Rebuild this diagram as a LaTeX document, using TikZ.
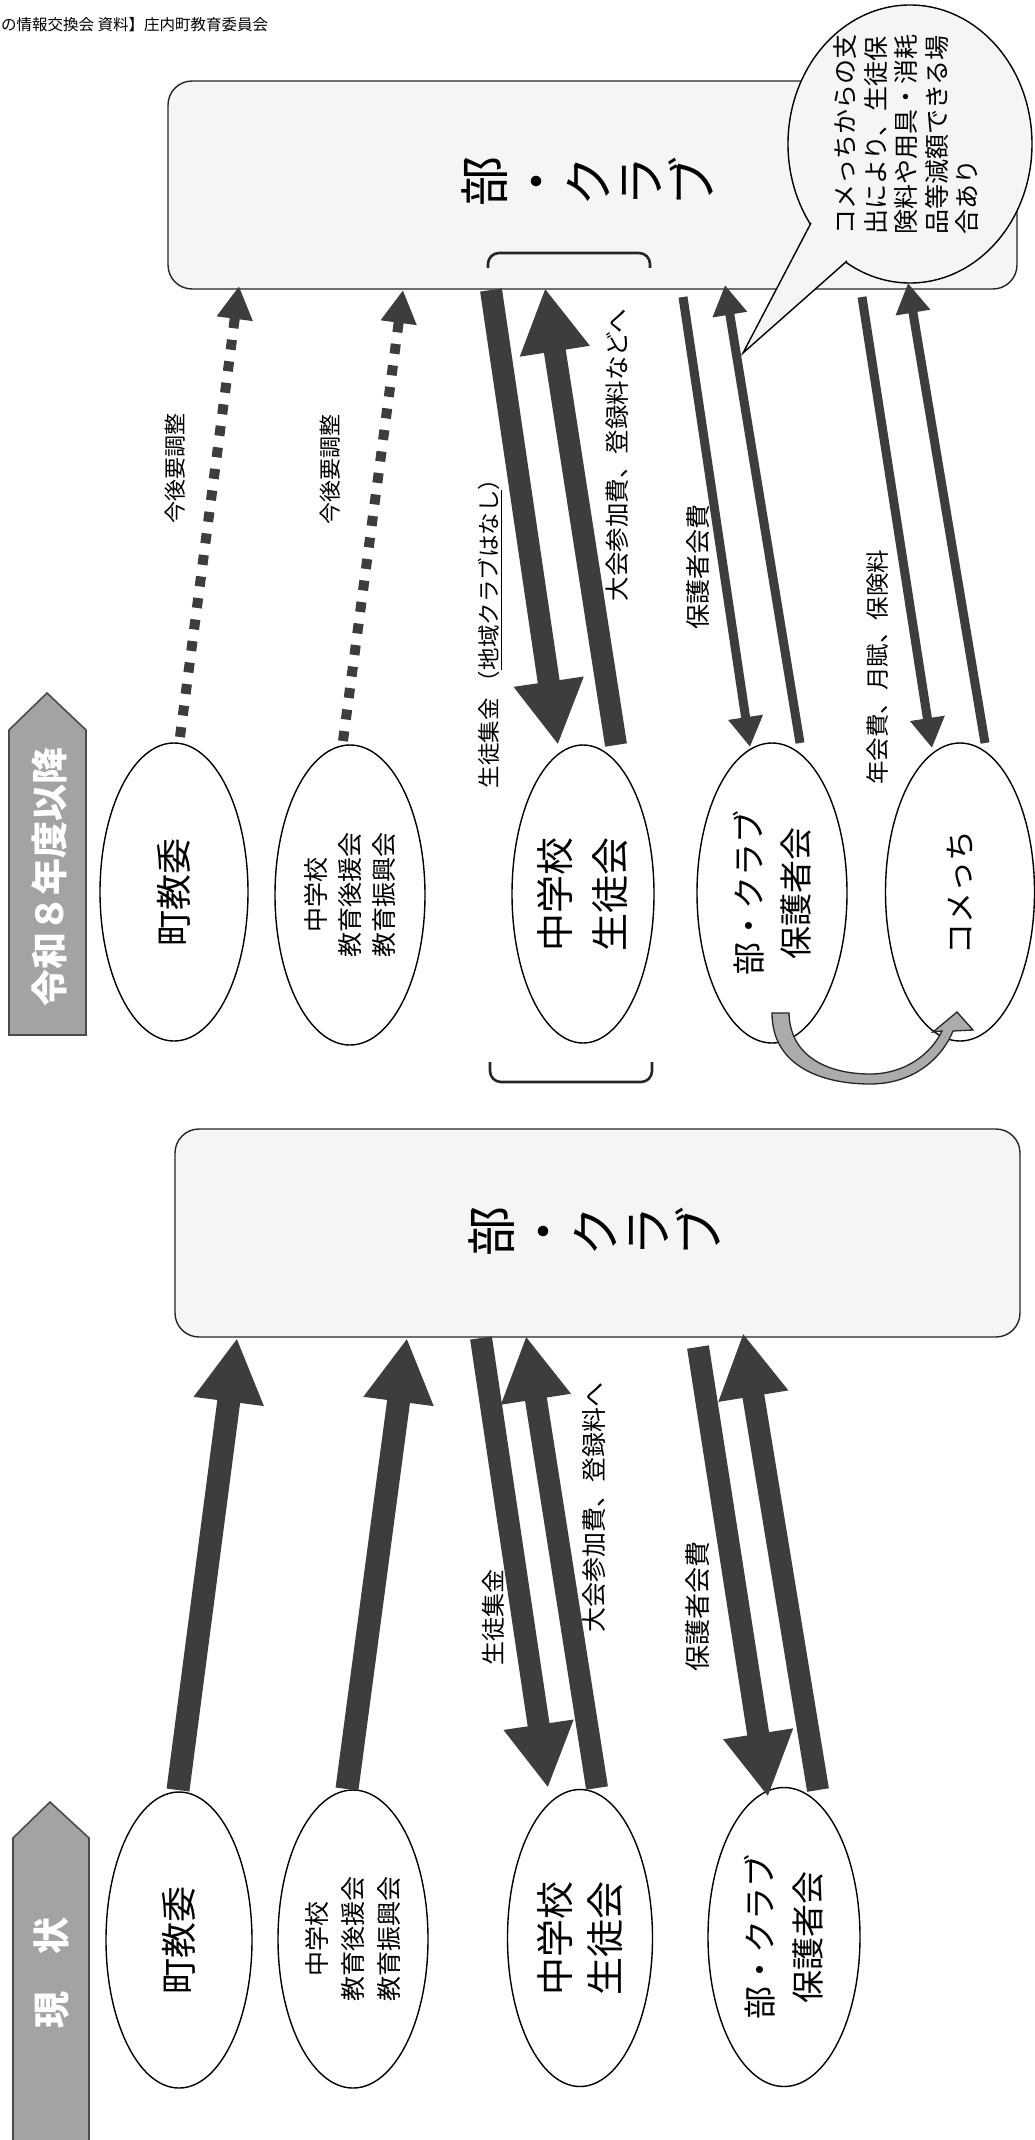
\documentclass[tikz,border=0pt]{standalone}
\usepackage{fontspec}
\setmainfont{Noto Sans CJK JP}
\usetikzlibrary{arrows.meta,shapes.geometric}
\definecolor{arrcol}{HTML}{3D3D3D}
\definecolor{boxfill}{HTML}{F5F5F5}
\definecolor{pentfill}{HTML}{A3A3A3}
\definecolor{pentline}{HTML}{4A4A4A}
\definecolor{curvefill}{HTML}{ABABAB}
\newcommand{\fsz}[2]{\fontsize{#1pt}{#2pt}\selectfont}
\begin{document}
\begin{tikzpicture}[x=1pt,y=-1pt,
  ell/.style={ellipse, draw=black, line width=1.4pt, fill=white, inner sep=0pt, rotate=90},
  clubbox/.style={rectangle, draw=black!85, line width=1.4pt, fill=boxfill, rounded corners=24pt, inner sep=0pt},
  lbl/.style={rotate=90, inner sep=0pt},
  thickarr/.style={draw=arrcol, line width=22pt, -{Triangle[length=64pt,width=66pt]}},
  thinarr/.style={draw=arrcol, line width=9pt, -{Triangle[length=30pt,width=33pt]}},
  dotarr/.style={draw=arrcol, line width=10pt, dash pattern=on 10pt off 11.7pt, -{Triangle[length=33pt,width=34pt]}},
  pent/.style={fill=pentfill, draw=pentline, line width=1.6pt},
  brk/.style={draw=black!85, line width=2.6pt, rounded corners=11pt},
]
\useasboundingbox (0,0) rectangle (1035,2140);
\fill[white] (0,0) rectangle (1035,2140);

% header
\node[anchor=west, inner sep=0pt, font=\fsz{15.5}{18}] (hdr) at (1,25) {の情報交換会 資料】庄内町教育委員会};

% ================= top section =================
\node[clubbox, minimum width=849pt, minimum height=208pt] (clubT) at (592.5,185) {};
\node[rotate=90, font=\fsz{50}{52}, align=center, inner sep=0pt] (clubTt) at (587,182) {部\\・\\ク\\ラ\\ブ};
\draw[brk] (488,268) -- (488,253) -- (650,253) -- (650,268);

% speech bubble
\node[ellipse, draw=black, line width=1.4pt, fill=boxfill, minimum width=244pt, minimum height=278pt, inner sep=0pt] (bub) at (910,144) {};
\fill[boxfill] (811,223) -- (743,353) -- (847,261) -- (853,251) -- (819,216) -- cycle;
\draw[line width=1.4pt, line join=miter] (811,223) -- (743,353) -- (847,261);
\node[rotate=90, font=\fsz{25}{30.5}, align=left, inner sep=0pt] (bubt) at (906,135) {コメっちからの支\\出により、生徒保\\険料や用具・消耗\\品等減額できる場\\合あり};

% left label
\draw[pent] (9,1035) -- (9,730) -- (47,693) -- (86,730) -- (86,1035) -- cycle;
\node[rotate=90, font=\fsz{37}{40}\bfseries, text=white, inner sep=0pt] (lab1) at (49,877) {令和８年度以降};

% ellipses
\node[ell, minimum width=298pt, minimum height=148pt, font=\fsz{36}{40}] (t1) at (174,892) {町教委};
\node[ell, minimum width=300pt, minimum height=150pt, font=\fsz{25}{34}, align=center] (t2) at (350,895) {中学校\\教育後援会\\教育振興会};
\node[ell, minimum width=298pt, minimum height=142pt, font=\fsz{38}{55}, align=center] (t3) at (583,894) {中学校\\生徒会};
\node[ell, minimum width=300pt, minimum height=150pt, font=\fsz{33}{47}, align=center] (t4) at (772,893) {部・クラブ\\保護者会};
\node[ell, minimum width=298pt, minimum height=149pt, font=\fsz{31}{35}] (t5) at (960,892) {コメっち};

% arrow end points
\coordinate (d1s) at (180,737); \coordinate (d1e) at (239,286);
\coordinate (d2s) at (343,741); \coordinate (d2e) at (403,290);
\coordinate (k1s) at (491,290); \coordinate (k1e) at (558,745);
\coordinate (k2s) at (616,745); \coordinate (k2e) at (545,288);
\coordinate (h1s) at (683,297); \coordinate (h1e) at (750,747);
\coordinate (h2s) at (800,743); \coordinate (h2e) at (725,285);
\coordinate (n1s) at (862,297); \coordinate (n1e) at (932,748);
\coordinate (n2s) at (985,743); \coordinate (n2e) at (908,283);

\draw[dotarr] (d1s) -- (d1e);
\draw[dotarr] (d2s) -- (d2e);
\draw[thickarr] (k1s) -- (k1e);
\draw[thickarr] (k2s) -- (k2e);
\draw[thinarr] (h1s) -- (h1e);
\draw[thinarr] (h2s) -- (h2e);
\draw[thinarr] (n1s) -- (n1e);
\draw[thinarr] (n2s) -- (n2e);

% labels
\node[lbl, font=\fsz{22}{24}] (l1) at (175,468) {今後要調整};
\node[lbl, font=\fsz{22}{24}] (l2) at (330,469) {今後要調整};
\node[lbl, font=\fsz{22.5}{24}] (l3) at (490,628) {生徒集金 （\underline{地域クラブはなし}）};
\node[lbl, font=\fsz{24.5}{26}] (l4) at (617,455) {大会参加費、登録料などへ};
\node[lbl, font=\fsz{25}{27}] (l5) at (698,567) {保護者会費};
\node[lbl, font=\fsz{23.5}{25}] (l6) at (878,667) {年会費、月賦、保険料};

% curved arrow from t4 to t5
\filldraw[fill=curvefill, draw=black!85, line width=1.3pt, line join=miter]
  (772,1013) .. controls (772,1068) and (825,1084) .. (870,1084)
  .. controls (912,1084) and (941,1060) .. (953,1031)
  -- (973,1030) -- (957,1012) -- (933,1032) -- (942,1031)
  .. controls (931,1054) and (905,1074) .. (870,1074)
  .. controls (830,1074) and (790,1058) .. (789,1013) -- cycle;

% lower bracket
\draw[brk] (490,1062) -- (490,1082) -- (652,1082) -- (652,1062);

% ================= bottom section =================
\node[clubbox, minimum width=845pt, minimum height=208pt] (clubB) at (597.5,1233) {};
\node[rotate=90, font=\fsz{50}{52}, align=center, inner sep=0pt] (clubBt) at (594,1231) {部\\・\\ク\\ラ\\ブ};

\draw[pent] (13,2150) -- (13,1838) -- (50,1802) -- (89,1838) -- (89,2150) -- cycle;
\node[rotate=90, font=\fsz{37}{40}\bfseries, text=white, inner sep=0pt] (lab2) at (52,1973) {現　状};

\node[ell, minimum width=296pt, minimum height=146pt, font=\fsz{36}{40}] (b1) at (179,1940) {町教委};
\node[ell, minimum width=298pt, minimum height=150pt, font=\fsz{25}{36}, align=center] (b2) at (353,1939) {中学校\\教育後援会\\教育振興会};
\node[ell, minimum width=297pt, minimum height=145pt, font=\fsz{38}{50}, align=center] (b3) at (580,1938) {中学校\\生徒会};
\node[ell, minimum width=299pt, minimum height=152pt, font=\fsz{33}{48}, align=center] (b4) at (784,1937) {部・クラブ\\保護者会};

\coordinate (u1s) at (178,1790); \coordinate (u1e) at (237,1338);
\coordinate (u2s) at (347,1789); \coordinate (u2e) at (407,1338);
\coordinate (s1s) at (481,1338); \coordinate (s1e) at (548,1788);
\coordinate (s2s) at (597,1788); \coordinate (s2e) at (526,1336);
\coordinate (p1s) at (698,1347); \coordinate (p1e) at (768,1797);
\coordinate (p2s) at (818,1790); \coordinate (p2e) at (743,1333);

\draw[thickarr, line width=23pt] (u1s) -- (u1e);
\draw[thickarr, line width=23pt] (u2s) -- (u2e);
\draw[thickarr] (s1s) -- (s1e);
\draw[thickarr] (s2s) -- (s2e);
\draw[thickarr] (p1s) -- (p1e);
\draw[thickarr] (p2s) -- (p2e);

\node[lbl, font=\fsz{24}{26}] (m1) at (493,1617) {生徒集金};
\node[lbl, font=\fsz{25}{27}] (m2) at (594,1507) {大会参加費、登録料へ};
\node[lbl, font=\fsz{26}{28}] (m3) at (698,1606) {保護者会費};
\end{tikzpicture}
\end{document}
